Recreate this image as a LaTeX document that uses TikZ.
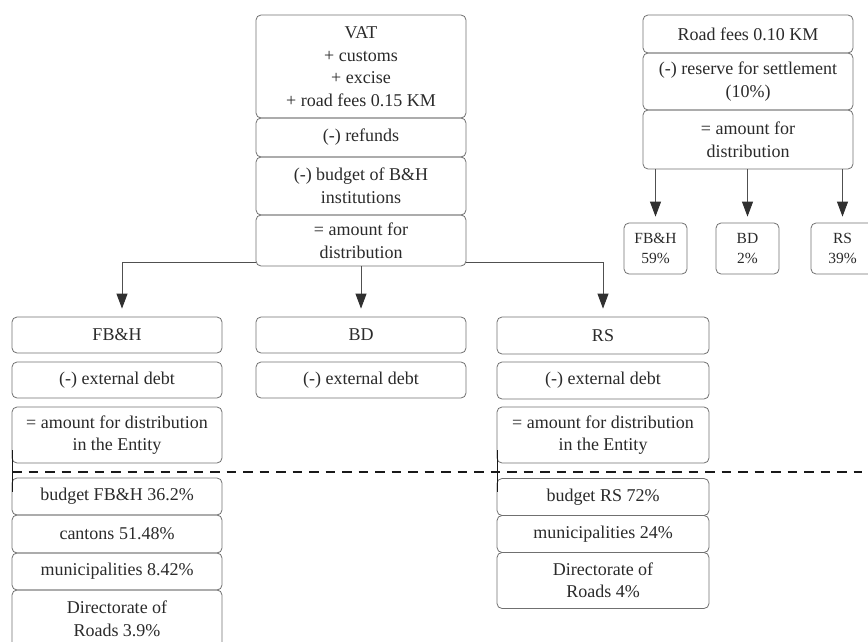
\documentclass[tikz,border=0pt]{standalone}
\usepackage{fontspec}
\setmainfont{Liberation Serif}
\usetikzlibrary{arrows.meta}
\definecolor{bordc}{HTML}{707070}
\definecolor{linec}{HTML}{505050}
\definecolor{txtc}{HTML}{2A2A2A}
\definecolor{arrc}{HTML}{303030}
\begin{document}
\begin{tikzpicture}[x=1pt,y=-1pt,
 box/.style={draw=bordc, line width=0.8pt, rounded corners=5pt, align=center, inner sep=0pt, text=txtc, font=\fontsize{18}{22.5}\selectfont, minimum width=210pt},
 sbox/.style={box, font=\fontsize{15.5}{20}\selectfont, minimum width=63pt, minimum height=51pt},
 conn/.style={draw=linec, line width=0.9pt},
 arr/.style={conn, -{Triangle[width=11pt,length=15pt,fill=arrc,color=arrc]}},
 dline/.style={draw=black!90, line width=1.3pt, dash pattern=on 9.5pt off 7pt},
 tick/.style={draw=black!90, line width=1pt}
 ]
\useasboundingbox (0,0) rectangle (868,642);
\clip (0,0) rectangle (868,642);
% main column
\node[box, minimum height=103pt] (vat) at (361,66.5) {VAT\\+ customs\\+ excise\\+ road fees 0.15 KM};
\node[box, minimum height=39pt] (ref) at (361,137.5) {(-) refunds};
\node[box, minimum height=58pt] (inst) at (361,186) {(-) budget of B\&H\\institutions};
\node[box, minimum height=51pt] (amt) at (361,240.5) {= amount for\\distribution};
% FB&H column
\node[box, minimum height=36pt] (fbh) at (117,335) {FB\&H};
\node[box, minimum height=36pt] (fdebt) at (117,380) {(-) external debt};
\node[box, minimum height=56pt] (fent) at (117,435) {= amount for distribution\\in the Entity};
\node[box, minimum height=37pt] (fbud) at (117,496.5) {budget FB\&H 36.2\%};
\node[box, minimum height=38pt] (fcant) at (117,534) {cantons 51.48\%};
\node[box, minimum height=37pt] (fmun) at (117,571.5) {municipalities 8.42\%};
\node[box, minimum height=58pt] (fdir) at (117,619) {Directorate of\\Roads 3.9\%};
% BD column
\node[box, minimum height=36pt] (bd) at (361,335) {BD};
\node[box, minimum height=36pt] (bdebt) at (361,380) {(-) external debt};
% RS column
\node[box, minimum width=212pt, minimum height=37pt] (rs) at (603,335.5) {RS};
\node[box, minimum width=212pt, minimum height=37pt] (rdebt) at (603,380.5) {(-) external debt};
\node[box, minimum width=212pt, minimum height=56pt] (rent) at (603,435) {= amount for distribution\\in the Entity};
\node[box, minimum width=212pt, minimum height=37pt] (rbud) at (603,497) {budget RS 72\%};
\node[box, minimum width=212pt, minimum height=37pt] (rmun) at (603,534) {municipalities 24\%};
\node[box, minimum width=212pt, minimum height=56pt] (rdir) at (603,580.5) {Directorate of\\Roads 4\%};
% road fees group
\node[box, minimum height=38pt] (rf) at (748,34) {Road fees 0.10 KM};
\node[box, minimum height=57pt] (res) at (748,81.5) {(-) reserve for settlement\\(10\%)};
\node[box, minimum height=59pt] (ramt) at (748,139.5) {= amount for\\distribution};
\node[sbox] (sf) at (655.5,248.5) {FB\&H\\59\%};
\node[sbox] (sb) at (747.5,248.5) {BD\\2\%};
\node[sbox] (sr) at (842.5,248.5) {RS\\39\%};
% connectors
\draw[arr, shorten >=8pt] ([yshift=4pt]amt.south west) -| ([xshift=5pt]fbh.north);
\draw[arr, shorten >=8pt] (amt.south) -- (bd.north);
\draw[arr, shorten >=8pt] ([yshift=4pt]amt.south east) -| (rs.north);
\draw[arr, shorten >=6pt] (ramt.south -| sf.north) -- (sf.north);
\draw[arr, shorten >=6pt] (ramt.south -| sb.north) -- (sb.north);
\draw[arr, shorten >=6pt] (ramt.south -| sr.north) -- (sr.north);
% dashed separator
\coordinate (dl) at (12,472);
\coordinate (dr) at (862,472);
\draw[dline] (dl) -- (dr);
\coordinate (ta) at (12,450);
\coordinate (tb) at (12,492);
\coordinate (tc) at (497,450);
\coordinate (td) at (497,492);
\draw[tick] (ta) -- (tb);
\draw[tick] (tc) -- (td);
\end{tikzpicture}
\end{document}
